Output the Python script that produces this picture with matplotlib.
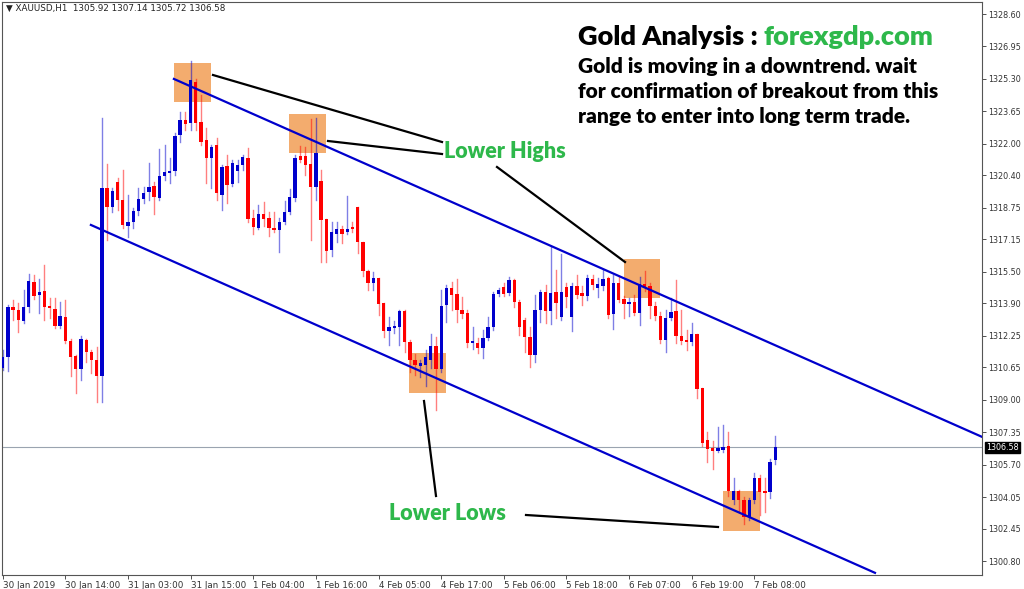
import matplotlib
matplotlib.use("Agg")
import matplotlib.pyplot as plt
from matplotlib.patches import Rectangle
from matplotlib.lines import Line2D

# XAUUSD H1 candles
opens = [1310.61, 1311.17, 1313.71, 1313.56, 1313.00, 1313.71, 1314.98, 1314.32, 1314.52, 1313.76,
         1313.61, 1312.75, 1313.20, 1311.98, 1311.22, 1310.56, 1312.03, 1311.43, 1311.02, 1310.21,
         1319.76, 1318.79, 1320.06, 1319.15, 1317.83, 1318.03, 1318.59, 1319.20, 1319.55, 1319.86,
         1319.25, 1320.37, 1320.52, 1320.62, 1322.45, 1323.21, 1323.06, 1325.14, 1323.11, 1322.20,
         1321.28, 1321.94, 1319.40, 1320.88, 1319.96, 1320.62, 1320.93, 1321.28, 1318.23, 1317.73,
         1318.44, 1318.23, 1317.73, 1317.62, 1318.03, 1318.54, 1319.25, 1321.38, 1321.38, 1320.98,
         1319.81, 1320.11, 1318.18, 1316.61, 1317.42, 1317.68, 1317.52, 1317.78, 1318.79, 1317.02,
         1315.54, 1314.93, 1315.19, 1313.91, 1312.49, 1312.64, 1312.69, 1313.51, 1311.93, 1311.02,
         1310.71, 1310.76, 1311.02, 1311.73, 1310.56, 1313.81, 1314.68, 1314.37, 1313.56, 1313.41,
         1311.88, 1311.88, 1311.63, 1312.14, 1312.69, 1314.37, 1314.73, 1314.42, 1315.08, 1313.96,
         1313.05, 1312.19, 1311.27, 1313.56, 1314.47, 1313.51, 1314.47, 1313.20, 1314.73, 1313.20,
         1314.78, 1314.42, 1314.27, 1315.13, 1314.68, 1314.78, 1315.19, 1313.35, 1314.93, 1314.12,
         1313.86, 1313.96, 1313.41, 1314.88, 1314.78, 1313.76, 1313.25, 1312.03, 1313.15, 1313.51,
         1312.24, 1312.03, 1311.93, 1312.34, 1309.60, 1306.95, 1306.55, 1306.40, 1306.45, 1306.65,
         1303.91, 1304.36, 1303.91, 1303.04, 1303.91, 1305.02, 1304.36, 1304.31, 1305.92]
highs = [1311.53, 1313.81, 1314.07, 1313.91, 1314.58, 1315.39, 1315.34, 1315.13, 1315.85, 1314.17,
         1314.17, 1313.96, 1314.07, 1312.08, 1311.27, 1312.24, 1312.08, 1311.53, 1311.68, 1323.31,
         1320.98, 1319.76, 1320.27, 1320.67, 1319.40, 1318.74, 1319.76, 1319.81, 1321.03, 1320.06,
         1321.74, 1321.94, 1321.28, 1322.55, 1323.62, 1323.62, 1326.21, 1325.30, 1324.48, 1322.81,
         1321.94, 1322.30, 1320.93, 1321.43, 1321.18, 1321.18, 1321.43, 1321.79, 1318.64, 1318.89,
         1319.05, 1318.54, 1318.54, 1318.23, 1319.10, 1319.71, 1321.43, 1321.89, 1321.84, 1323.26,
         1323.31, 1320.67, 1318.18, 1318.03, 1318.03, 1317.83, 1319.35, 1318.03, 1318.79, 1317.02,
         1315.59, 1315.49, 1315.19, 1313.91, 1313.20, 1313.00, 1313.56, 1313.56, 1312.03, 1311.32,
         1311.02, 1311.53, 1312.34, 1312.19, 1314.58, 1314.83, 1314.98, 1315.13, 1314.22, 1313.56,
         1312.69, 1312.14, 1312.54, 1313.20, 1314.47, 1314.68, 1314.93, 1315.24, 1315.13, 1314.07,
         1313.15, 1312.69, 1314.32, 1314.58, 1314.83, 1316.76, 1315.59, 1316.41, 1314.93, 1314.93,
         1315.34, 1314.78, 1315.34, 1315.34, 1315.19, 1315.59, 1315.24, 1315.34, 1315.29, 1314.27,
         1314.17, 1314.32, 1315.24, 1315.54, 1314.93, 1313.96, 1313.46, 1313.56, 1314.17, 1315.08,
         1313.56, 1312.54, 1312.90, 1312.34, 1309.60, 1307.36, 1306.90, 1307.61, 1307.72, 1307.36,
         1305.02, 1304.41, 1304.06, 1304.01, 1305.28, 1305.18, 1305.02, 1305.99, 1307.14]
lows = [1310.51, 1310.46, 1313.05, 1312.44, 1312.90, 1313.46, 1314.12, 1313.41, 1313.05, 1313.15,
        1312.64, 1312.64, 1311.88, 1310.21, 1309.34, 1310.00, 1310.92, 1310.36, 1308.88, 1308.88,
        1317.12, 1318.54, 1318.64, 1317.73, 1317.27, 1317.73, 1318.39, 1318.99, 1319.15, 1318.44,
        1319.15, 1320.16, 1320.01, 1320.42, 1322.10, 1322.70, 1322.70, 1322.70, 1321.94, 1320.01,
        1319.76, 1319.15, 1318.64, 1318.99, 1319.86, 1320.06, 1320.67, 1318.03, 1317.42, 1317.68,
        1317.83, 1317.32, 1317.52, 1316.51, 1317.93, 1318.44, 1319.10, 1321.08, 1320.42, 1317.12,
        1319.15, 1316.00, 1316.00, 1316.30, 1317.02, 1316.96, 1317.42, 1317.52, 1316.46, 1315.29,
        1314.58, 1314.58, 1313.30, 1312.19, 1311.78, 1312.39, 1311.78, 1311.43, 1310.41, 1310.26,
        1310.16, 1309.70, 1310.61, 1308.48, 1310.41, 1312.95, 1313.56, 1312.95, 1313.15, 1311.68,
        1311.58, 1311.37, 1311.12, 1312.03, 1312.54, 1314.27, 1314.27, 1314.32, 1313.71, 1312.29,
        1311.43, 1310.66, 1310.92, 1312.95, 1312.90, 1312.85, 1313.15, 1313.05, 1313.71, 1312.49,
        1314.17, 1313.81, 1314.07, 1314.63, 1314.22, 1314.58, 1313.15, 1312.59, 1313.96, 1313.15,
        1313.25, 1313.30, 1312.80, 1314.52, 1313.15, 1313.05, 1311.88, 1311.43, 1313.05, 1311.88,
        1311.83, 1311.53, 1311.78, 1309.09, 1306.65, 1305.84, 1305.48, 1306.35, 1306.35, 1304.11,
        1303.70, 1303.35, 1302.69, 1302.89, 1303.75, 1303.14, 1303.30, 1304.01, 1305.72]
closes = [1311.17, 1313.71, 1313.56, 1313.05, 1313.71, 1315.03, 1314.27, 1314.47, 1313.71, 1313.66,
          1312.75, 1313.25, 1311.98, 1311.17, 1310.56, 1312.08, 1311.43, 1311.02, 1310.21, 1319.76,
          1318.79, 1319.61, 1319.15, 1317.88, 1318.03, 1318.59, 1319.20, 1319.50, 1319.81, 1319.30,
          1320.37, 1320.57, 1320.62, 1322.40, 1323.21, 1323.01, 1325.25, 1323.06, 1322.10, 1321.28,
          1321.84, 1319.50, 1320.83, 1319.91, 1321.03, 1320.93, 1321.33, 1318.18, 1317.78, 1318.44,
          1318.18, 1317.73, 1317.62, 1318.03, 1318.54, 1319.30, 1321.28, 1321.18, 1320.93, 1319.81,
          1321.54, 1318.13, 1316.56, 1317.52, 1317.68, 1317.42, 1317.68, 1317.68, 1317.02, 1315.54,
          1314.93, 1315.19, 1313.86, 1312.49, 1312.69, 1312.75, 1313.51, 1311.93, 1311.02, 1310.76,
          1310.87, 1311.17, 1311.73, 1310.56, 1313.76, 1314.68, 1314.32, 1313.56, 1313.35, 1311.88,
          1311.98, 1311.63, 1312.14, 1312.69, 1314.37, 1314.58, 1314.37, 1315.08, 1313.96, 1312.69,
          1312.19, 1311.27, 1313.56, 1314.47, 1313.51, 1314.42, 1313.91, 1314.47, 1314.22, 1314.78,
          1314.32, 1314.27, 1315.19, 1314.83, 1314.88, 1315.13, 1313.30, 1314.93, 1314.07, 1313.86,
          1313.96, 1313.41, 1314.88, 1314.73, 1313.76, 1313.25, 1312.03, 1313.15, 1313.46, 1312.24,
          1311.98, 1311.93, 1312.34, 1309.55, 1306.80, 1306.50, 1306.40, 1306.55, 1306.60, 1304.36,
          1304.36, 1303.91, 1303.04, 1303.91, 1305.02, 1304.31, 1304.26, 1305.84, 1306.58]

tick_bars = [0, 12, 24, 36, 48, 60, 72, 84, 96, 108, 120, 132, 144]
tick_labels = ["30 Jan 2019", "30 Jan 14:00", "31 Jan 03:00", "31 Jan 15:00", "1 Feb 04:00",
               "1 Feb 16:00", "4 Feb 05:00", "4 Feb 17:00", "5 Feb 06:00", "5 Feb 18:00",
               "6 Feb 07:00", "6 Feb 19:00", "7 Feb 08:00"]
price_ticks = [1328.60, 1326.95, 1325.30, 1323.65, 1322.00, 1320.40, 1318.75, 1317.15, 1315.50,
               1313.90, 1312.25, 1310.65, 1309.00, 1307.35, 1305.70, 1304.05, 1302.45, 1300.80]
last_price = 1306.58

# channel lines (bar, price)
upper_channel = [(32.8, 1325.30), (187.6, 1307.11)]
lower_channel = [(16.9, 1317.88), (167.1, 1300.20)]
# highlighted swing points: (bar0, bar1, price_low, price_high)
boxes = [(32.8, 39.9, 1324.13, 1326.11), (54.8, 61.9, 1321.54, 1323.52),
         (119.0, 126.0, 1314.17, 1316.15), (77.8, 84.9, 1309.34, 1311.38),
         (138.0, 145.0, 1302.33, 1304.36)]

W, H = 1024, 589
fig = plt.figure(figsize=(W / 100, H / 100), dpi=100)
ax = fig.add_axes([2 / W, 1 - 575 / H, 980 / W, 573 / H])
ax.set_xlim(-0.13, 187.6)
ax.set_ylim(1300.09, 1329.21)

for b0, b1, p0, p1 in boxes:
    ax.add_patch(Rectangle((b0, p0), b1 - b0, p1 - p0, color="#f2a35e", alpha=0.9, lw=0, zorder=1))

for i, (o, h, l, c) in enumerate(zip(opens, highs, lows, closes)):
    col = "#0000cc" if c >= o else "#ff0000"
    ax.plot([i, i], [l, h], color=col, alpha=0.5, lw=1, zorder=2)
    ax.add_patch(Rectangle((i - 0.32, min(o, c)), 0.64, max(abs(c - o), 0.03),
                           color=col, lw=0, zorder=3))

for line in (upper_channel, lower_channel):
    ax.plot([line[0][0], line[1][0]], [line[0][1], line[1][1]], color="#0000cc", lw=1.6, zorder=4)

ax.axhline(last_price, color="#9aa4b0", lw=0.8, zorder=1)

ax.yaxis.tick_right()
ax.set_yticks(price_ticks)
ax.set_yticklabels([f"{p:.2f}" for p in price_ticks], fontsize=5.8)
ax.set_xticks(tick_bars)
ax.set_xticklabels(tick_labels, fontsize=6.3, ha="left")
ax.tick_params(axis="both", length=3, width=0.6, pad=1.5, colors="#333333")
for s in ax.spines.values():
    s.set_linewidth(0.8)
    s.set_color("#555555")
ax.text(1.004, (last_price - 1300.09) / (1329.21 - 1300.09), f"{last_price:.2f}",
        transform=ax.transAxes, fontsize=5.8, color="white", va="center", ha="left",
        bbox=dict(boxstyle="square,pad=0.15", fc="black", ec="black"))


def px(x, y):
    return x / W, 1 - y / H


# annotation pointer lines (pixel coords)
pointers = [((213, 75), (442, 142)), ((328, 141), (442, 154)), ((497, 167), (625, 262)),
            ((424, 401), (436, 496)), ((526, 515), (718, 527))]
for a, b in pointers:
    (x0, y0), (x1, y1) = px(*a), px(*b)
    fig.add_artist(Line2D([x0, x1], [y0, y1], color="black", lw=1.6))

green = "#2eb84b"
fig.text(*px(505, 152), "Lower Highs", color=green, fontsize=15.5, fontweight="heavy",
         family="Lato", ha="center", va="center")
fig.text(*px(447, 514), "Lower Lows", color=green, fontsize=15.5, fontweight="heavy",
         family="Lato", ha="center", va="center")
t = fig.text(*px(578, 37), "Gold Analysis : ", color="black", fontsize=19.5, fontweight="heavy",
             family="Lato", va="center")
fig.canvas.draw()
bb = t.get_window_extent()
fig.text(bb.x1 / W, 1 - 37 / H, "forexgdp.com", color=green, fontsize=19.5, fontweight="heavy",
         family="Lato", va="center")
for k, line in enumerate(["Gold is moving in a downtrend. wait",
                          "for confirmation of breakout from this",
                          "range to enter into long term trade."]):
    fig.text(*px(578, 66 + 25 * k), line, color="black", fontsize=15, fontweight="heavy",
             family="Lato", va="center")

fig.text(*px(6, 8), "\u25BC XAUUSD,H1  1305.92 1307.14 1305.72 1306.58", fontsize=6.3,
         color="#222222", va="center")

fig.savefig("out.png", dpi=100)
